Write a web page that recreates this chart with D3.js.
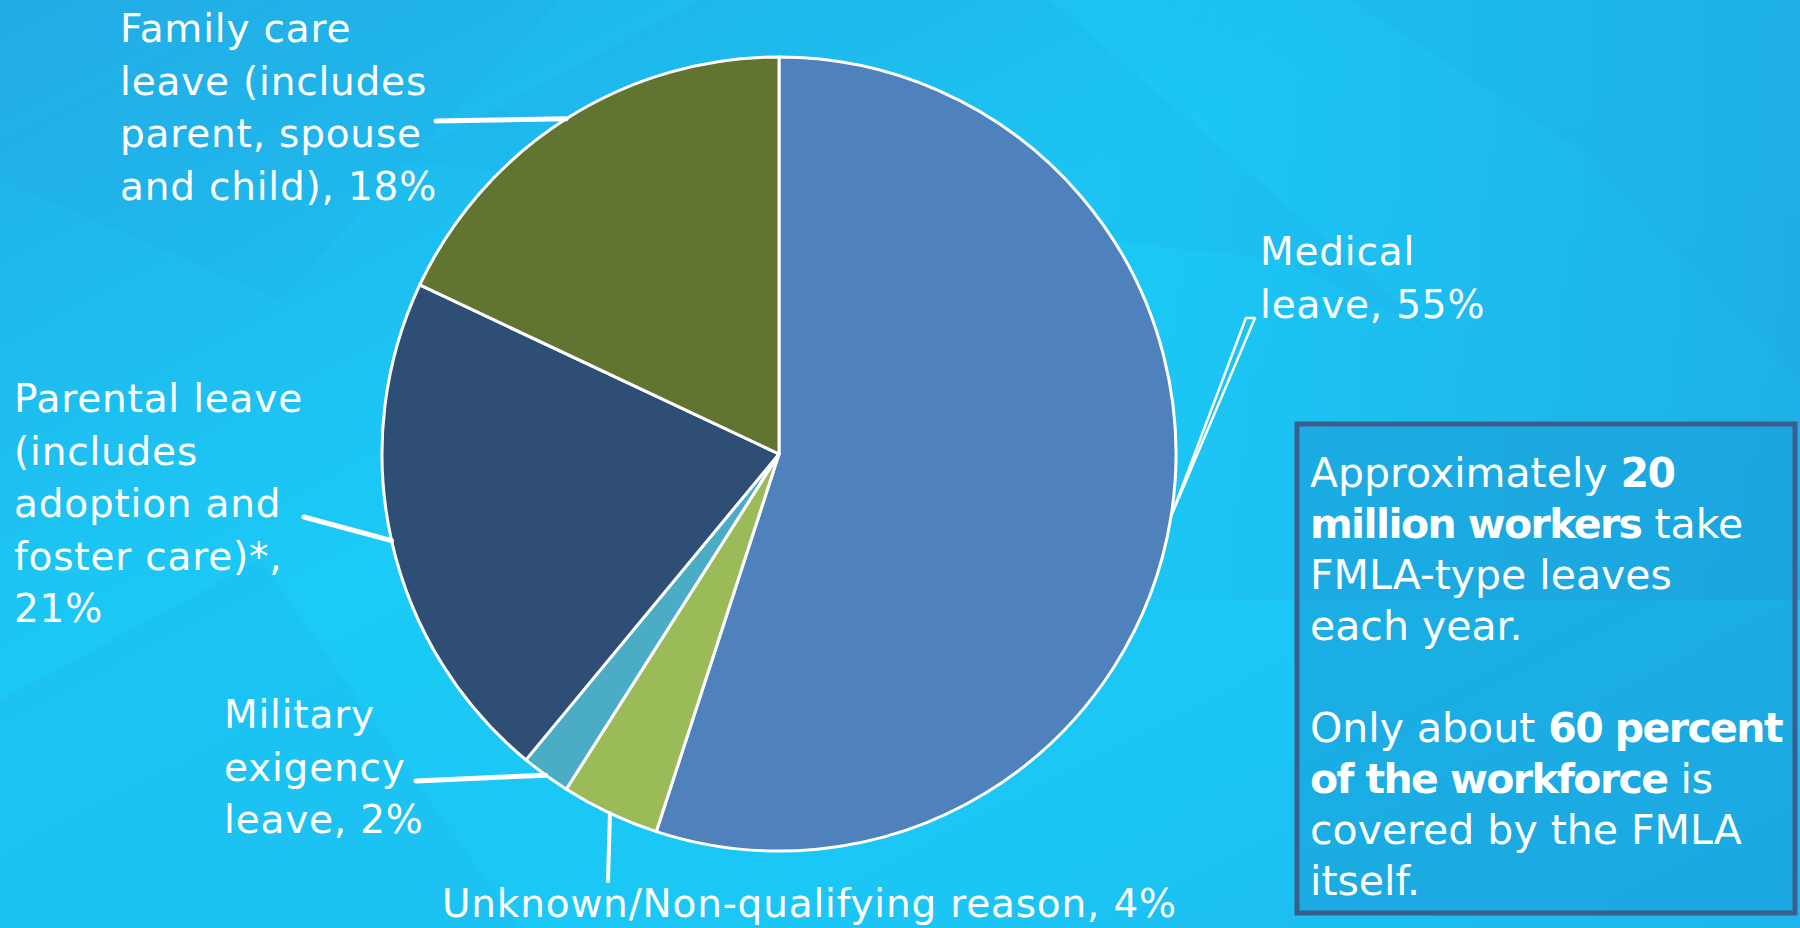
<!DOCTYPE html>
<html>
<head>
<meta charset="utf-8">
<script src="https://cdn.jsdelivr.net/npm/d3@7/dist/d3.min.js"></script>
<style>
  html, body { margin: 0; padding: 0; background: #1cc4f4; }
  svg { display: block; }
  text { font-family: "DejaVu Sans", sans-serif; fill: #fff; }
</style>
</head>
<body>
<svg id="chart" width="1800" height="928"></svg>
<script>
// Reasons for taking FMLA-type leave (share of leaves, %)
const categories = [
  'Medical leave',
  'Unknown/Non-qualifying reason',
  'Military exigency leave',
  'Parental leave (includes adoption and foster care)*',
  'Family care leave (includes parent, spouse and child)'
];
const values = [55, 4, 2, 21, 18];
const sliceColors = ['#4f81bd', '#9bbb59', '#4bacc6', '#2e4e76', '#617531'];

// label text, one entry per line
const labelLines = [
  ['Medical', 'leave, 55%'],
  ['Unknown/Non-qualifying reason, 4%'],
  ['Military', 'exigency', 'leave, 2%'],
  ['Parental leave', '(includes', 'adoption and', 'foster care)*,', '21%'],
  ['Family care', 'leave (includes', 'parent, spouse', 'and child), 18%']
];

// label layout: text anchor (x, first baseline) and the leader end point
const labelLayout = [
  { x: 1260, y: 265, lx: 1250, ly: 318 },
  { x: 442, y: 917, lx: 608, ly: 881 },
  { x: 224, y: 728, lx: 416, ly: 781 },
  { x: 14, y: 412, lx: 304, ly: 517 },
  { x: 120, y: 42, lx: 436, ly: 121 }
];

const noteLines = [
  [['Approximately ', false], ['20', true]],
  [['million workers', true], [' take', false]],
  [['FMLA-type leaves', false]],
  [['each year.', false]],
  [],
  [['Only about ', false], ['60 percent', true]],
  [['of the workforce', true], [' is', false]],
  [['covered by the FMLA', false]],
  [['itself.', false]]
];

const width = 1800, height = 928;
const cx = 779, cy = 454, radius = 397;
const svg = d3.select('#chart');
const defs = svg.append('defs');

// background
const bg = defs.append('linearGradient').attr('id', 'bg')
  .attr('x1', 0).attr('y1', 0).attr('x2', 1).attr('y2', 1);
bg.append('stop').attr('offset', '0%').attr('stop-color', '#22aee6');
bg.append('stop').attr('offset', '40%').attr('stop-color', '#1bcaf6');
bg.append('stop').attr('offset', '75%').attr('stop-color', '#1bc6f4');
bg.append('stop').attr('offset', '100%').attr('stop-color', '#1eb6ec');
svg.append('rect').attr('width', width).attr('height', height).attr('fill', 'url(#bg)');

const tr = defs.append('linearGradient').attr('id', 'tr')
  .attr('x1', 0).attr('y1', 0).attr('x2', 1).attr('y2', 0);
tr.append('stop').attr('offset', '0%').attr('stop-color', '#2196d8').attr('stop-opacity', 0);
tr.append('stop').attr('offset', '100%').attr('stop-color', '#2196d8').attr('stop-opacity', 0.45);
svg.append('rect').attr('x', 1100).attr('width', 700).attr('height', 600).attr('fill', 'url(#tr)');

// faint chevron shapes in the backdrop
const chevrons = [
  [[0, 0], [560, 0], [280, 300], [0, 180]],
  [[1350, 0], [1800, 0], [1800, 380], [1580, 150]],
  [[400, 160], [700, 0], [1050, 0], [1430, 330], [1280, 260]],
  [[0, 700], [260, 560], [520, 928], [0, 928]]
];
svg.append('g').selectAll('path').data(chevrons).join('path')
  .attr('d', d => d3.line()(d) + 'Z')
  .attr('fill', '#1f9fdc').attr('opacity', 0.12);

// pie
const pie = d3.pie().sort(null).value(d => d);
const arcs = pie(values);
const arc = d3.arc().innerRadius(0).outerRadius(radius);

const g = svg.append('g').attr('transform', `translate(${cx},${cy})`);
g.selectAll('path.slice').data(arcs).join('path')
  .attr('class', 'slice')
  .attr('d', arc)
  .attr('fill', (d, i) => sliceColors[i])
  .attr('stroke', '#fff')
  .attr('stroke-width', 3)
  .attr('stroke-linejoin', 'round');

// leader lines from the slice's outer edge midpoint to the label
const edgePoint = d => {
  const a = (d.startAngle + d.endAngle) / 2;
  return [cx + radius * Math.sin(a), cy - radius * Math.cos(a)];
};
arcs.forEach((d, i) => {
  const [ex, ey] = edgePoint(d);
  const L = labelLayout[i];
  if (i === 0) {
    svg.append('path')
      .attr('d', d3.line()([[ex, ey], [L.lx - 4, L.ly], [L.lx + 5, L.ly]]) + 'Z')
      .attr('fill', 'none').attr('stroke', '#fff').attr('stroke-width', 2.5)
      .attr('stroke-linejoin', 'round');
  } else {
    svg.append('line')
      .attr('x1', ex).attr('y1', ey).attr('x2', L.lx).attr('y2', L.ly)
      .attr('stroke', '#fff').attr('stroke-width', i === 1 ? 4 : 5)
      .attr('stroke-linecap', 'round');
  }
});

// slice labels
const labelG = svg.append('g').attr('font-size', 39).attr('letter-spacing', 0.8);
labelLines.forEach((lines, i) => {
  const L = labelLayout[i];
  const t = labelG.append('text').attr('x', L.x).attr('y', L.y);
  lines.forEach((s, j) => {
    t.append('tspan').attr('x', L.x).attr('y', L.y + j * 52.5).text(s);
  });
});

// note box
svg.append('rect')
  .attr('x', 1297).attr('y', 424).attr('width', 498).attr('height', 489)
  .attr('fill', '#1a9fd8').attr('fill-opacity', 0.6)
  .attr('stroke', '#3a5f8f').attr('stroke-width', 5);

const note = svg.append('text').attr('font-size', 41);
noteLines.forEach((parts, j) => {
  if (!parts.length) return;
  const line = note.append('tspan').attr('x', 1310).attr('y', 487 + j * 51);
  parts.forEach(([s, bold], k) => {
    const sp = k === 0 ? line : note.append('tspan');
    sp.text(s)
      .attr('font-weight', bold ? 'bold' : 'normal')
      .attr('letter-spacing', bold ? -1.6 : 0);
  });
});
</script>
</body>
</html>
